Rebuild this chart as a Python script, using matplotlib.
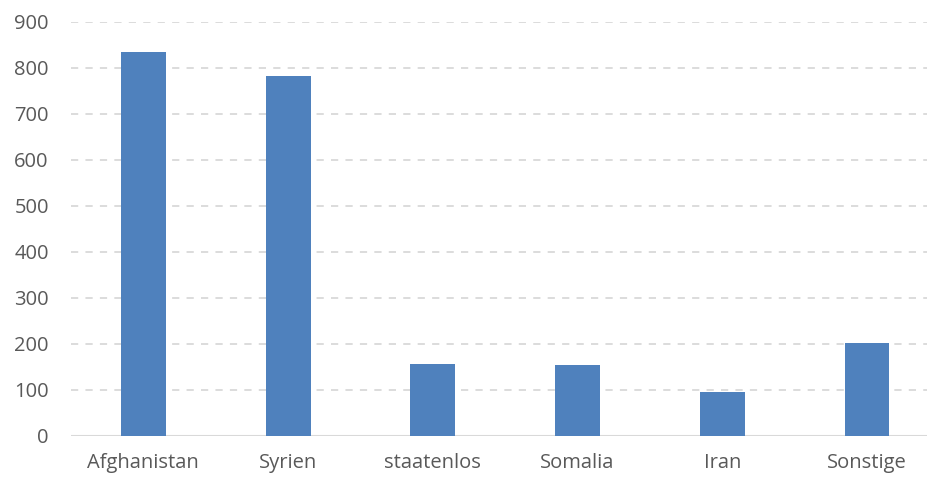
import matplotlib.pyplot as plt

categories = ["Afghanistan", "Syrien", "staatenlos", "Somalia", "Iran", "Sonstige"]
values = [835, 783, 157, 154, 95, 202]
yticks = [0, 100, 200, 300, 400, 500, 600, 700, 800, 900]

plt.rcParams['font.family'] = ['Open Sans', 'DejaVu Sans']

fig = plt.figure(figsize=(9.27, 4.79), dpi=100)
ax = fig.add_axes([0.0766, 0.0898, 0.9234, 0.8643])

x = list(range(len(categories)))
ax.bar(x, values, width=0.31, color='#4F81BD', zorder=3)

ax.set_ylim(0, 900)
ax.set_xlim(-0.5, 5.415)
ax.set_yticks(yticks)
ax.set_xticks(x)
ax.set_xticklabels(categories)

ax.grid(axis='y', color='#D9D9D9', linestyle=(0, (4, 4)), linewidth=1.3, zorder=0)
ax.axhline(0, color='#D9D9D9', linewidth=1.5, zorder=2)

for s in ax.spines.values():
    s.set_visible(False)
ax.tick_params(length=0, colors='#595959', labelsize=14.5)
ax.tick_params(axis='y', pad=16)
ax.tick_params(axis='x', pad=12)

fig.savefig("out.png", dpi=100)
